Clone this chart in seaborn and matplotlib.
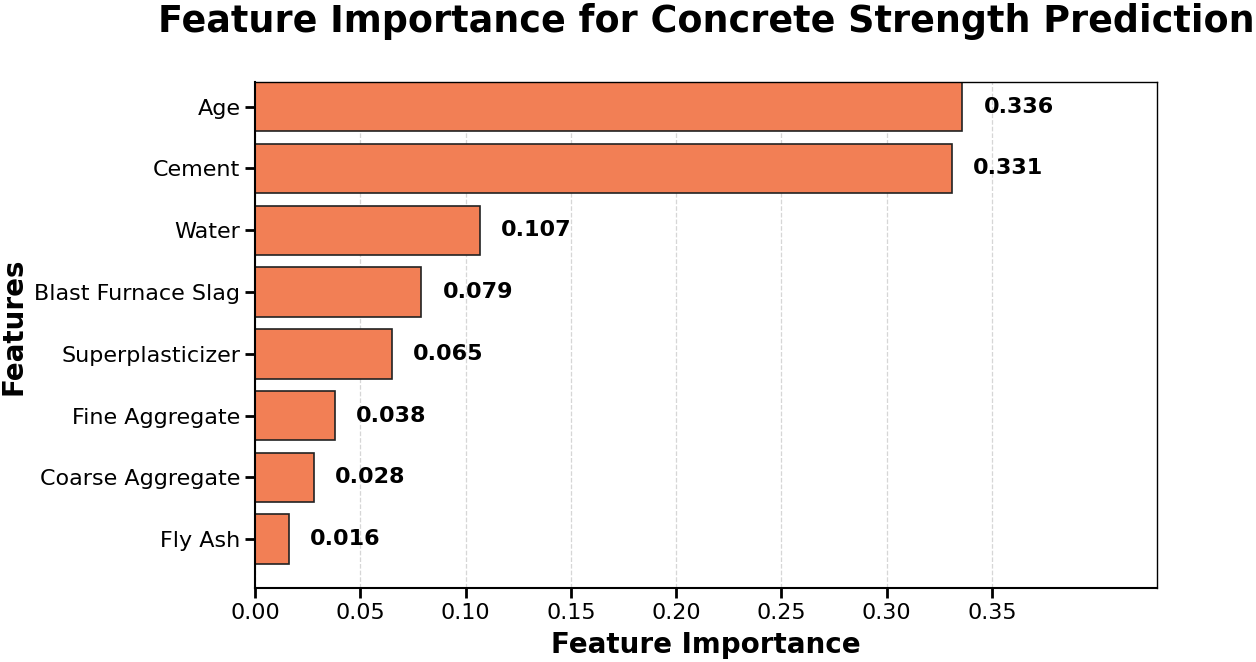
import numpy as np
import pandas as pd
import seaborn as sns
import matplotlib
matplotlib.use("Agg")
import matplotlib.pyplot as plt

# Data
features = ['Age', 'Cement', 'Water', 'Blast Furnace Slag', 'Superplasticizer',
            'Fine Aggregate', 'Coarse Aggregate', 'Fly Ash']
importance = [0.336, 0.331, 0.107, 0.079, 0.065, 0.038, 0.028, 0.016]
xticks = [0.0, 0.05, 0.10, 0.15, 0.20, 0.25, 0.30, 0.35]

df = pd.DataFrame({'feature': features, 'importance': importance})

sns.set_theme(style='ticks')
plt.rcParams['font.family'] = ['DejaVu Sans']
plt.rcParams.update({'text.color': 'black', 'axes.labelcolor': 'black',
                     'xtick.color': 'black', 'ytick.color': 'black'})

fig = plt.figure(figsize=(12.56, 6.62), dpi=100)
ax = fig.add_axes([255 / 1256, 74 / 662, 902 / 1256, 506 / 662])

sns.barplot(data=df, x='importance', y='feature', orient='h', color='#F27F55',
            saturation=1, edgecolor='#222222', linewidth=1.2, width=0.8, ax=ax)

# value labels next to the bars
for i, v in enumerate(importance):
  ax.text(v + 0.01, i, f'{v:.3f}', va='center', ha='left',
          fontsize=16, fontweight='bold', color='black')

ax.set_xlim(0, max(importance) * 1.275)
ax.set_ylim(len(features) - 0.21, -0.4)
ax.set_xticks(xticks)
ax.set_xticklabels([f'{t:.2f}' for t in xticks])

ax.grid(axis='x', linestyle='--', color='#cccccc', linewidth=0.9, alpha=0.8)
ax.set_axisbelow(True)

ax.tick_params(axis='both', labelsize=16, width=2, length=7, color='black')
for side in ['top', 'right']:
  ax.spines[side].set_linewidth(1.0)
  ax.spines[side].set_color('black')
for side in ['left', 'bottom']:
  ax.spines[side].set_linewidth(1.5)
  ax.spines[side].set_color('black')

ax.set_xlabel('Feature Importance', fontsize=20, fontweight='bold', labelpad=6)
ax.set_ylabel('Features', fontsize=20, fontweight='bold', labelpad=5)
ax.yaxis.label.set_y(0.518)
ax.set_title('Feature Importance for Concrete Strength Prediction',
             fontsize=26.3, fontweight='bold', pad=36)

fig.savefig('out.png', dpi=100)
